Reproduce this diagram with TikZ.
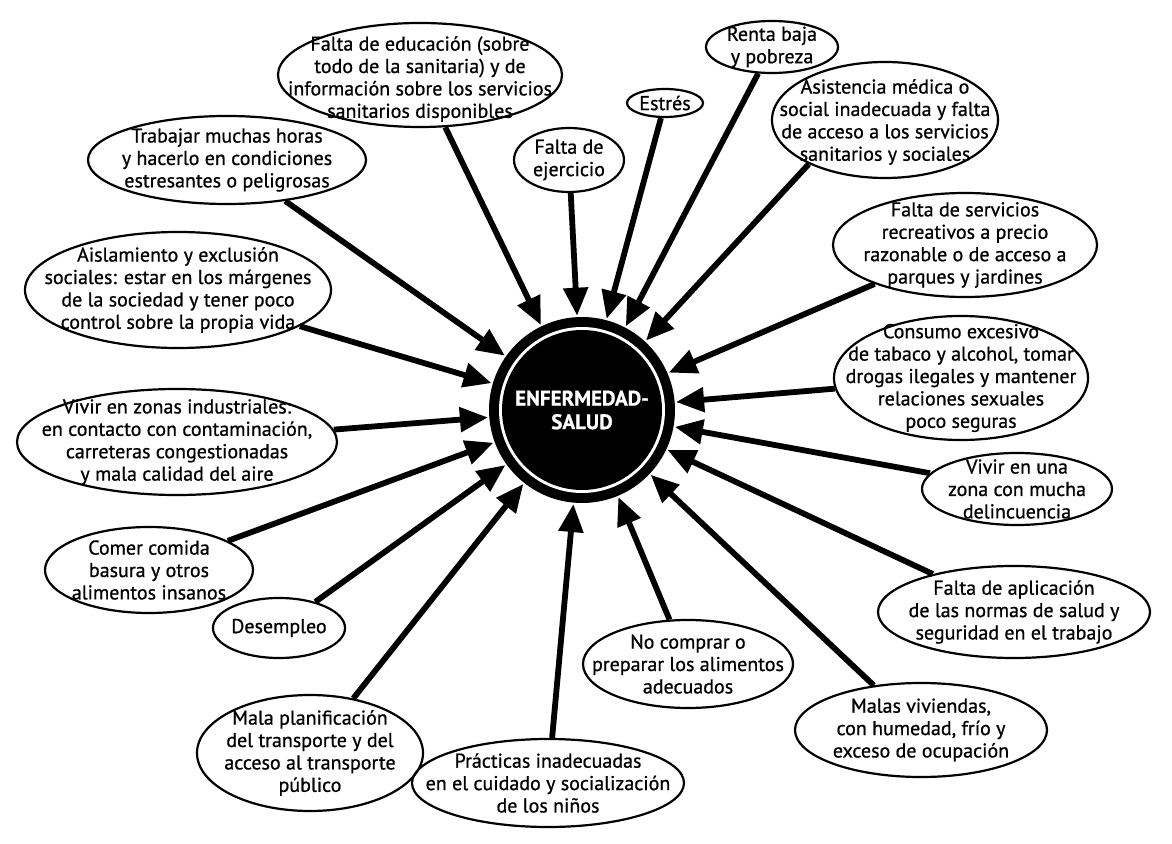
\documentclass[tikz,border=0pt]{standalone}
\usepackage{fontspec}
\setmainfont{PT Sans}[FakeBold=0.8]
\usetikzlibrary{shapes.geometric,arrows.meta}
\begin{document}
\begin{tikzpicture}[x=0.5pt,y=-0.5pt,
  ell/.style={draw, ellipse, line width=1.1pt, inner sep=0pt},
  txt/.style={align=center, font=\fontsize{10}{11.2}\selectfont, inner sep=0pt},
  arr/.style={line width=2.9pt, -{Triangle[length=14pt,width=12pt]}, shorten >=0.5pt}]
\useasboundingbox (0,0) rectangle (1172,844);
\fill[white] (0,0) rectangle (1172,844);

% centre
\node[circle, minimum size=93pt, inner sep=0pt] (c) at (582,410) {};
\fill[black] (c.center) circle (46.5pt);
\fill[white] (c.center) circle (41.5pt);
\fill[black] (c.center) circle (40pt);
\node[text=white, font=\bfseries\fontsize{10.5}{11.8}\selectfont, align=center] (ct) at (c) {ENFERMEDAD-\\SALUD};

% ellipses
\node[ell, minimum width=142pt, minimum height=52pt] (e1) at (420,75) {};
\node[txt] at ([yshift=-2pt]e1.center) {Falta de educación (sobre\\todo de la sanitaria) y de\\información sobre los servicios\\sanitarios disponibles};
\node[ell, minimum width=38pt, minimum height=14pt] (e2) at (665,103) {};
\node[txt] at (e2) {Estrés};
\node[ell, minimum width=66pt, minimum height=26pt] (e3) at (772,47) {};
\node[txt] at (e3) {Renta baja\\y pobreza};
\node[ell, minimum width=113pt, minimum height=58pt] (e4) at (885,120) {};
\node[txt] at ([yshift=-1pt]e4.center) {Asistencia médica o\\social inadecuada y falta\\de acceso a los servicios\\sanitarios y sociales};
\node[ell, minimum width=55pt, minimum height=32pt] (e5) at (569,160) {};
\node[txt] at (e5) {Falta de\\ejercicio};
\node[ell, minimum width=139pt, minimum height=44pt] (e6) at (227,160) {};
\node[txt] at (e6) {Trabajar muchas horas\\y hacerlo en condiciones\\estresantes o peligrosas};
\node[ell, minimum width=153pt, minimum height=58pt] (e7) at (178,290) {};
\node[txt] at (e7) {Aislamiento y exclusión\\sociales: estar en los márgenes\\de la sociedad y tener poco\\control sobre la propia vida};
\node[ell, minimum width=160pt, minimum height=53pt] (e8) at (177,442) {};
\node[txt] at (e8) {Vivir en zonas industriales:\\en contacto con contaminación,\\carreteras congestionadas\\y mala calidad del aire};
\node[ell, minimum width=104pt, minimum height=43pt] (e9) at (149,570) {};
\node[txt] at (e9) {Comer comida\\basura y otros\\alimentos insanos};
\node[ell, minimum width=66pt, minimum height=30pt] (e10) at (279,628) {};
\node[txt] at (e10) {Desempleo};
\node[ell, minimum width=113pt, minimum height=58pt] (e11) at (310,753) {};
\node[txt] at (e11) {Mala planificación\\del transporte y del\\acceso al transporte\\público};
\node[ell, minimum width=136pt, minimum height=44pt] (e12) at (548,783) {};
\node[txt] at (e12) {Prácticas inadecuadas\\en el cuidado y socialización\\de los niños};
\node[ell, minimum width=105pt, minimum height=44pt] (e13) at (688,664) {};
\node[txt] at (e13) {No comprar o\\preparar los alimentos\\adecuados};
\node[ell, minimum width=126pt, minimum height=47pt] (e14) at (921,730) {};
\node[txt] at (e14) {Malas viviendas,\\con humedad, frío y\\exceso de ocupación};
\node[ell, minimum width=136pt, minimum height=46pt] (e15) at (1014,612) {};
\node[txt] at (e15) {Falta de aplicación\\de las normas de salud y\\seguridad en el trabajo};
\node[ell, minimum width=95pt, minimum height=36pt] (e16) at (1017,489) {};
\node[txt] at (e16) {Vivir en una\\zona con mucha\\delincuencia};
\node[ell, minimum width=127pt, minimum height=62pt] (e17) at (961,378) {};
\node[txt] at (e17) {Consumo excesivo\\de tabaco y alcohol, tomar\\drogas ilegales y mantener\\relaciones sexuales\\poco seguras};
\node[ell, minimum width=132pt, minimum height=52pt] (e18) at (965,245) {};
\node[txt] at (e18) {Falta de servicios\\recreativos a precio\\razonable o de acceso a\\parques y jardines};

% arrows
\foreach \e in {e1,e2,e3,e5,e6,e7,e8,e9,e10,e11,e12,e13,e14,e15,e16,e17,e18}
  \draw[arr] (\e) -- (c);
\draw[arr] (e4.210) -- (c);
\end{tikzpicture}
\end{document}
